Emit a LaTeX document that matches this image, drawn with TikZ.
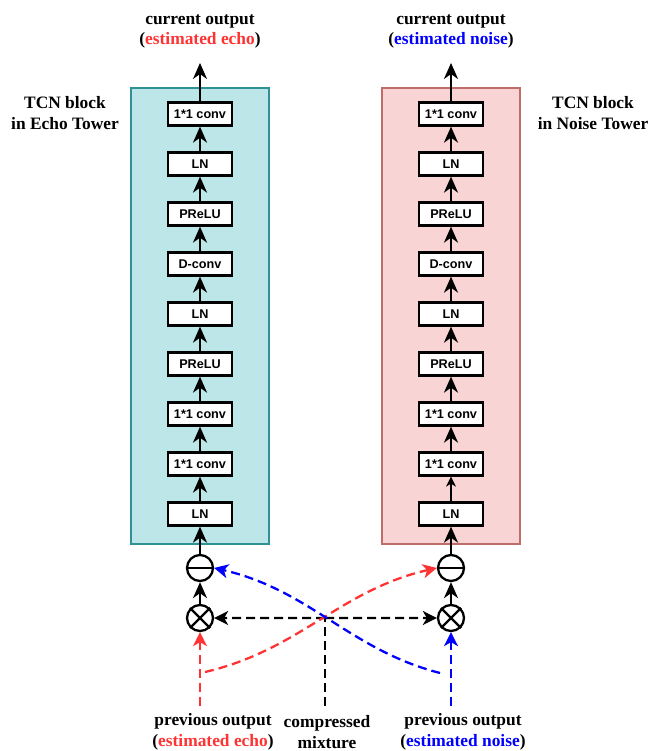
\documentclass[tikz,border=0pt]{standalone}
\usepackage{fontspec}
\setmainfont{Liberation Serif}
\setsansfont{Liberation Sans}
\usepackage{xcolor}
\usepackage{tikz}
\usetikzlibrary{arrows.meta}
\definecolor{echored}{HTML}{FF3333}
\definecolor{noiseblue}{HTML}{0000FF}
\definecolor{echofill}{HTML}{BDE6E8}
\definecolor{echoline}{HTML}{2E9196}
\definecolor{noisefill}{HTML}{F8D4D4}
\definecolor{noiseline}{HTML}{C06C6A}
\tikzstyle{tower} = [rectangle, minimum width=2.76cm, minimum height=9.12cm, line width=1.2pt]
\tikzstyle{block} = [rectangle, minimum width=1.28cm, minimum height=0.46cm, inner sep=0pt, text centered, draw=black, line width=1.3pt, fill=white, font=\sffamily\bfseries\fontsize{7.2}{8}\selectfont]
\tikzstyle{op} = [circle, minimum size=0.52cm, inner sep=0pt, draw=black, line width=1.3pt]
\tikzstyle{arrow} = [line width=1.3pt, -{Stealth[length=0.32cm, width=0.28cm, inset=0.1cm]}]
\tikzstyle{thinarrow} = [line width=0.6pt, -{Stealth[length=0.2cm, width=0.2cm, inset=0.06cm]}]
\tikzstyle{dline} = [line width=1.3pt, dash pattern=on 0.18cm off 0.1cm]
\tikzstyle{darrow} = [dline, -{Stealth[length=0.28cm, width=0.28cm, inset=0.08cm]}]
\tikzstyle{txt} = [align=center, font=\bfseries\fontsize{9.9}{11.9}\selectfont]

\begin{document}
\begin{tikzpicture}[node distance=1cm]
        \useasboundingbox (0,0) rectangle (13,15.02);

        % towers
        \node (etower) [tower, fill=echofill, draw=echoline] at (4.0,8.7) {};
        \node (ntower) [tower, fill=noisefill, draw=noiseline] at (9.02,8.7) {};

        % echo tower
        \node (e1) [block] at (4.0,4.74) {LN};
        \node (e2) [block, above of=e1] {1*1 conv};
        \node (e3) [block, above of=e2] {1*1 conv};
        \node (e4) [block, above of=e3] {PReLU};
        \node (e5) [block, above of=e4] {LN};
        \node (e6) [block, above of=e5] {D-conv};
        \node (e7) [block, above of=e6] {PReLU};
        \node (e8) [block, above of=e7] {LN};
        \node (e9) [block, above of=e8] {1*1 conv};
        \node (em) [op, below of=e1, yshift=-0.08cm] {};
        \node (et) [op, below of=em] {};

        % noise tower
        \node (n1) [block] at (9.02,4.74) {LN};
        \node (n2) [block, above of=n1] {1*1 conv};
        \node (n3) [block, above of=n2] {1*1 conv};
        \node (n4) [block, above of=n3] {PReLU};
        \node (n5) [block, above of=n4] {LN};
        \node (n6) [block, above of=n5] {D-conv};
        \node (n7) [block, above of=n6] {PReLU};
        \node (n8) [block, above of=n7] {LN};
        \node (n9) [block, above of=n8] {1*1 conv};
        \node (nm) [op, below of=n1, yshift=-0.08cm] {};
        \node (nt) [op, below of=nm] {};

        % operators
        \draw [line width=1.3pt] (em.west) -- (em.east);
        \draw [line width=1.3pt] (et.north west) -- (et.south east);
        \draw [line width=1.3pt] (et.north east) -- (et.south west);
        \draw [line width=1.3pt] (nm.west) -- (nm.east);
        \draw [line width=1.3pt] (nt.north west) -- (nt.south east);
        \draw [line width=1.3pt] (nt.north east) -- (nt.south west);

        % labels
        \coordinate (eout) at (4.0,13.76);
        \coordinate (nout) at (9.02,13.76);
        \node (eouttxt) [txt] at (4.0,14.39) {current output\\(\textcolor{echored}{estimated echo})};
        \node (nouttxt) [txt] at (9.02,14.39) {current output\\(\textcolor{noiseblue}{estimated noise})};
        \node (etxt) [txt] at (1.3,12.75) {TCN block\\in Echo Tower};
        \node (ntxt) [txt] at (11.86,12.75) {TCN block\\in Noise Tower};
        \node (eprevtxt) [txt] at (4.26,0.38) {previous output\\(\textcolor{echored}{estimated echo})};
        \node (mixtxt) [txt] at (6.54,0.38) {compressed\\mixture};
        \node (nprevtxt) [txt] at (9.26,0.38) {previous output\\(\textcolor{noiseblue}{estimated noise})};

        \coordinate (eprev) at (4.0,0.9);
        \coordinate (nprev) at (9.02,0.9);
        \coordinate (mix) at (6.5,0.9);
        \coordinate (mixsplit) at (6.5,2.66);
        \coordinate (ecross) at (4.1,1.58);
        \coordinate (ncross) at (8.8,1.56);

        \draw [arrow] (et) -- (em);
        \draw [arrow] (em) -- (e1);
        \draw [arrow] (e1) -- (e2);
        \draw [arrow] (e2) -- (e3);
        \draw [arrow] (e3) -- (e4);
        \draw [arrow] (e4) -- (e5);
        \draw [arrow] (e5) -- (e6);
        \draw [arrow] (e6) -- (e7);
        \draw [arrow] (e7) -- (e8);
        \draw [arrow] (e8) -- (e9);
        \draw [arrow] (e9) -- (eout);

        \draw [arrow] (nt) -- (nm);
        \draw [arrow] (nm) -- (n1);
        \draw [thinarrow] (n1) -- (n2);
        \draw [arrow] (n2) -- (n3);
        \draw [arrow] (n3) -- (n4);
        \draw [arrow] (n4) -- (n5);
        \draw [arrow] (n5) -- (n6);
        \draw [arrow] (n6) -- (n7);
        \draw [arrow] (n7) -- (n8);
        \draw [arrow] (n8) -- (n9);
        \draw [arrow] (n9) -- (nout);

        % inputs
        \draw [darrow, echored] (eprev) -- (et);
        \draw [darrow, noiseblue] (nprev) -- (nt);
        \draw [dline] (mix) -- (mixsplit);
        \draw [darrow] (mixsplit) -- (et);
        \draw [darrow] (mixsplit) -- (nt);
        \draw [darrow, echored] (ecross) .. controls (6.0,2.02) and (6.8,3.22) .. (nm.west);
        \draw [darrow, noiseblue] (ncross) .. controls (7.0,2.02) and (6.2,3.22) .. (em.east);
     \end{tikzpicture}
\end{document}
